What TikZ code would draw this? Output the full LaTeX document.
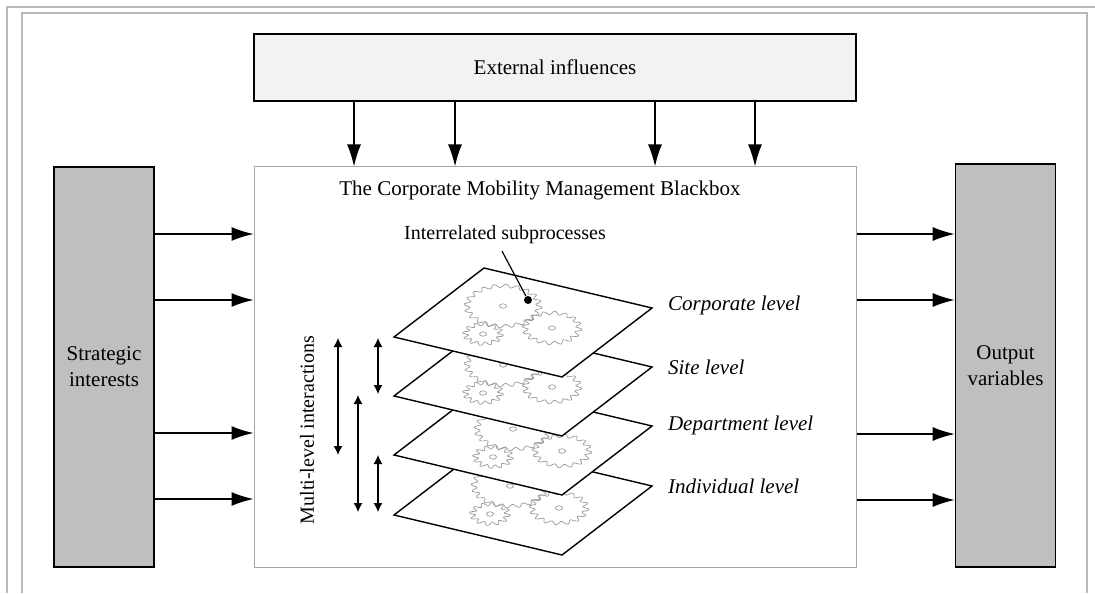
\documentclass[tikz,border=0pt]{standalone}
\usepackage{fontspec}
\setmainfont{Liberation Serif}
\usepackage{tikz}
\usetikzlibrary{calc, positioning, arrows.meta}
\tikzset{
    px/.style = {x=0.5pt, y=-0.5pt, font=\fontsize{10.5}{13}\selectfont}, % one unit is one pixel of the layout, y runs down
    sidebox/.style = {rectangle, draw, line width=0.8pt, fill=gray!50, minimum width=50pt, minimum height=200pt, align=center, inner sep=0pt},
    extbox/.style = {rectangle, draw, line width=0.7pt, fill=gray!10, minimum width=301pt, minimum height=33.5pt},
    blackbox/.style = {rectangle, draw=gray!70, line width=0.5pt, minimum width=301pt, minimum height=200pt},
    flow/.style = {line width=0.7pt, -{Latex[length=11pt, width=7pt]}}, % the big arrows into and out of the box
    inter/.style = {line width=0.6pt, {Latex[length=4.5pt, width=4.5pt]}-{Latex[length=4.5pt, width=4.5pt]}},
    plane/.style = {draw, fill=white, line width=0.7pt},
    gearline/.style = {draw=gray!80, line width=0.35pt},
    lvl/.style = {anchor=west, font=\fontsize{10.5}{13}\selectfont\itshape},
    dot/.style = {circle, fill, inner sep=0pt, minimum size=4pt},
    framegray/.style = {draw=gray!55, line width=0.6pt}
}
% gear seen at a slant: centre x, centre y, radius, number of teeth
\newcommand{\slantgear}[4]{%
    \draw[gearline] plot[domain=0:360, samples=250, smooth] ({#1+(#3+3*sin(#4*\x))*cos(\x)}, {#2+0.56*(#3+3*sin(#4*\x))*sin(\x)});
    \draw[gearline] (#1,#2) ellipse [x radius=3.5, y radius=2.2];
}
% one level plane with its three gears: left corner y, gear shift x, gear shift y
\newcommand{\levelplane}[3]{%
    \draw[plane] (394,#1) -- ++(90,-69) -- ++(168,40) -- ++(-90,69) -- cycle;
    \slantgear{503+#2}{#1-31+#3}{36}{20}
    \slantgear{483+#2}{#1-3+#3}{17.5}{12}
    \slantgear{552+#2}{#1-9+#3}{27}{16}
}

\begin{document}
\begin{tikzpicture}[px]
    \useasboundingbox (0,0) rectangle (1095,593);
    \draw[framegray] (7,593) -- (7,7) -- (1095,7);
    \draw[framegray] (22,593) -- (22,13) -- (1087,13) -- (1087,593);

    \node[blackbox] (bbox) at (555,367) {};
    \node[extbox] (ext) at (555,67.5) {External influences};
    \node[sidebox] (strat) at (104,367) {Strategic\\interests};
    \node[sidebox, minimum height=201.5pt] (out) at (1005.5,365.5) {Output\\variables};
    \node (title) at (540,190) {The Corporate Mobility Management Blackbox};

    \path[flow] (ext.south -| 354,0) edge (bbox.north -| 354,0);
    \path[flow] (ext.south -| 455,0) edge (bbox.north -| 455,0);
    \path[flow] (ext.south -| 655,0) edge (bbox.north -| 655,0);
    \path[flow] (ext.south -| 755,0) edge (bbox.north -| 755,0);

    \path[flow] (strat.east |- 0,234) edge (bbox.west |- 0,234);
    \path[flow] (strat.east |- 0,300) edge (bbox.west |- 0,300);
    \path[flow] (strat.east |- 0,433) edge (bbox.west |- 0,433);
    \path[flow] (strat.east |- 0,499) edge (bbox.west |- 0,499);

    \path[flow] (bbox.east |- 0,234) edge (out.west |- 0,234);
    \path[flow] (bbox.east |- 0,300) edge (out.west |- 0,300);
    \path[flow] (bbox.east |- 0,434) edge (out.west |- 0,434);
    \path[flow] (bbox.east |- 0,500) edge (out.west |- 0,500);

    % planes from the lowest up, so each one hides the one below
    \levelplane{515}{7}{2}
    \levelplane{455}{10}{5}
    \levelplane{396}{0}{0}
    \levelplane{337}{0}{0}

    \node[lvl] (corp) at (661,305) {Corporate level};
    \node[lvl] (site) at (661,367) {Site level};
    \node[lvl] (dept) at (661,425) {Department level};
    \node[lvl] (indiv) at (661,486) {Individual level};

    \node[font=\fontsize{10}{12}\selectfont] (sub) at (505,235) {Interrelated subprocesses};
    \node[dot] (hub) at (528,300) {};
    \draw[line width=0.6pt] (sub.south -| 502,0) -- (hub);

    \node[rotate=90, font=\fontsize{10}{12}\selectfont] (multi) at (307,430) {Multi-level interactions};
    \draw[inter] (338,338) -- (338,455);
    \draw[inter] (378,338) -- (378,394);
    \draw[inter] (358,395) -- (358,512);
    \draw[inter] (378,455) -- (378,512);
\end{tikzpicture}
\end{document}
